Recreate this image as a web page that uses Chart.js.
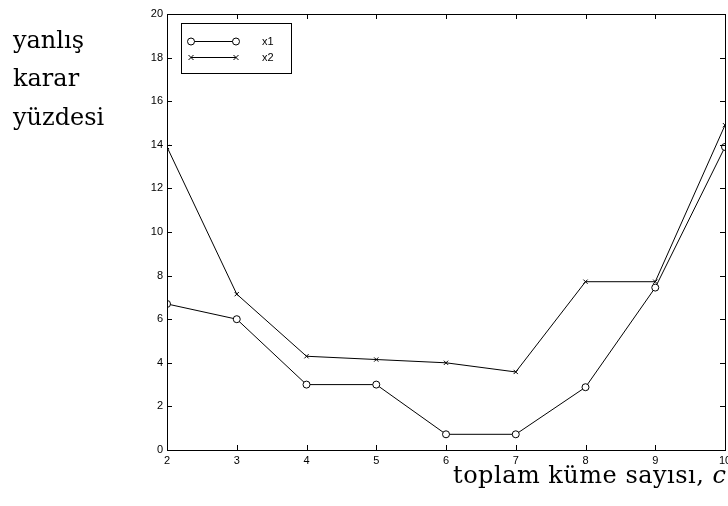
<!DOCTYPE html>
<html>
<head>
<meta charset="utf-8">
<script src="https://cdn.jsdelivr.net/npm/chart.js@4"></script>
<style>
  body { margin: 0; background: #fff; }
  #wrap { position: relative; width: 728px; height: 506px; }
  .lbl { position: absolute; font-family: "DejaVu Serif", serif; font-size: 24px; color: #000; white-space: nowrap; line-height: 1; }
</style>
</head>
<body>
<div id="wrap">
  <canvas id="c" width="728" height="506"></canvas>
  <div class="lbl" style="left:13px;top:28px">yanlış</div>
  <div class="lbl" style="left:13px;top:66px">karar</div>
  <div class="lbl" style="left:13px;top:105px">yüzdesi</div>
  <div class="lbl" style="left:453px;top:463px;letter-spacing:0.5px">toplam küme sayısı, <i>c</i></div>
</div>
<script>
const clusters = [2, 3, 4, 5, 6, 7, 8, 9, 10];
const x1 = [6.7, 6.0, 3.0, 3.0, 0.72, 0.72, 2.88, 7.45, 13.9];
const x2 = [13.9, 7.15, 4.3, 4.15, 4.0, 3.58, 7.72, 7.72, 14.9];
const seriesNames = ["x1", "x2"];

// inward ticks, box and legend, MATLAB style
const frame = {
  id: "frame",
  afterDatasetsDraw(chart) {
    const ctx = chart.ctx;
    const a = chart.chartArea;
    const xs = chart.scales.x, ys = chart.scales.y;
    ctx.save();
    ctx.strokeStyle = "#000";
    ctx.lineWidth = 1;
    ctx.beginPath();
    xs.ticks.forEach(t => {
      const px = Math.round(xs.getPixelForValue(t.value)) + 0.5;
      ctx.moveTo(px, a.bottom); ctx.lineTo(px, a.bottom - 5);
      ctx.moveTo(px, a.top); ctx.lineTo(px, a.top + 5);
    });
    ys.ticks.forEach(t => {
      const py = Math.round(ys.getPixelForValue(t.value)) + 0.5;
      ctx.moveTo(a.left, py); ctx.lineTo(a.left + 5, py);
      ctx.moveTo(a.right, py); ctx.lineTo(a.right - 5, py);
    });
    ctx.stroke();
    ctx.strokeRect(Math.round(a.left) + 0.5, Math.round(a.top) + 0.5,
      Math.round(a.right - a.left), Math.round(a.bottom - a.top));

    // legend
    const lx = 181.5, ly = 23.5, lw = 110, lh = 50;
    ctx.fillStyle = "#fff";
    ctx.fillRect(lx, ly, lw, lh);
    ctx.strokeRect(lx, ly, lw, lh);
    const rows = [41, 57];
    ctx.font = "11px 'Liberation Sans', Arial, sans-serif";
    ctx.textBaseline = "middle";
    rows.forEach((y, i) => {
      ctx.beginPath();
      ctx.moveTo(191, y + 0.5); ctx.lineTo(236, y + 0.5);
      ctx.stroke();
      [191, 236].forEach(cx => {
        ctx.beginPath();
        if (i === 0) {
          ctx.arc(cx, y + 0.5, 3.5, 0, Math.PI * 2);
          ctx.fillStyle = "#fff"; ctx.fill();
        } else {
          ctx.moveTo(cx - 2.5, y - 2); ctx.lineTo(cx + 2.5, y + 3);
          ctx.moveTo(cx + 2.5, y - 2); ctx.lineTo(cx - 2.5, y + 3);
        }
        ctx.stroke();
      });
      ctx.fillStyle = "#000";
      ctx.fillText(seriesNames[i], 262, y + 1);
    });
    ctx.restore();
  }
};

new Chart(document.getElementById("c"), {
  type: "line",
  data: {
    datasets: [
      {
        label: seriesNames[0],
        data: clusters.map((c, i) => ({ x: c, y: x1[i] })),
        borderColor: "#000", borderWidth: 1,
        pointStyle: "circle", pointRadius: 3.5,
        pointBackgroundColor: "#fff", pointBorderColor: "#000", pointBorderWidth: 1
      },
      {
        label: seriesNames[1],
        data: clusters.map((c, i) => ({ x: c, y: x2[i] })),
        borderColor: "#000", borderWidth: 1,
        pointStyle: "crossRot", pointRadius: 3,
        pointBorderColor: "#000", pointBorderWidth: 1
      }
    ]
  },
  options: {
    responsive: false,
    animation: false,
    layout: { autoPadding: false, padding: { top: 14, right: 3, left: 0, bottom: 0 } },
    plugins: { legend: { display: false }, tooltip: { enabled: false } },
    scales: {
      x: {
        type: "linear", min: 2, max: 10,
        afterFit: s => { s.height = 56; s.paddingLeft = 0; s.paddingRight = 0; },
        grid: { display: false, drawTicks: false },
        border: { display: false },
        ticks: { stepSize: 1, padding: 4, color: "#000", maxRotation: 0,
          font: { family: "'Liberation Sans', Arial, sans-serif", size: 11 } }
      },
      y: {
        min: 0, max: 20,
        afterFit: s => { s.width = 167; s.paddingTop = 0; s.paddingBottom = 0; },
        grid: { display: false, drawTicks: false },
        border: { display: false },
        ticks: { stepSize: 2, padding: 4, color: "#000",
          font: { family: "'Liberation Sans', Arial, sans-serif", size: 11 } }
      }
    }
  },
  plugins: [frame]
});
</script>
</body>
</html>
